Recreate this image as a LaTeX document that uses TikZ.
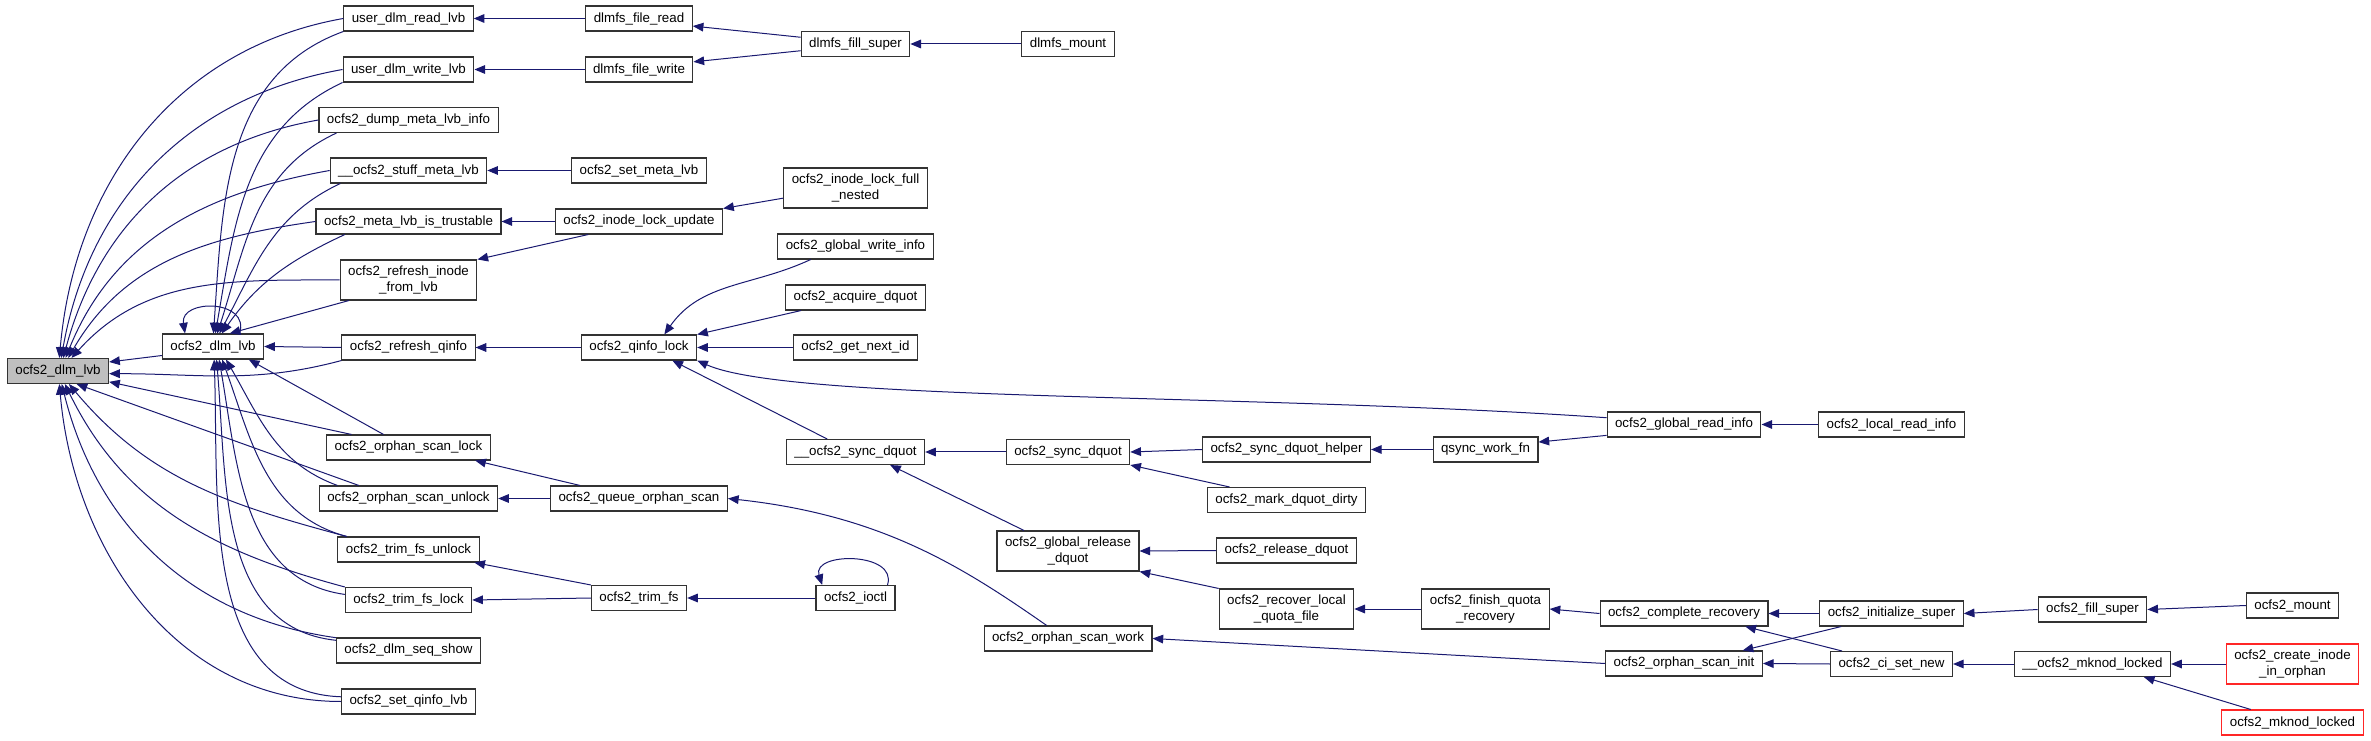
\documentclass[tikz,border=0pt]{standalone}
\usepackage{fontspec}
\setmainfont{Liberation Sans}
\usepackage{tikz}
\usetikzlibrary{arrows.meta}
\definecolor{edgeblue}{HTML}{191970}
\definecolor{curgray}{HTML}{BFBFBF}

\begin{document}
\begin{tikzpicture}[
  x=0.75pt, y=-0.75pt,
  fn/.style={draw=black!80,fill=white,line width=0.8pt,minimum height=18.75pt,
    inner xsep=6pt,inner ysep=1pt,align=center,font=\fontsize{10}{11.5}\selectfont},
  fn2/.style={fn,minimum height=30pt},
  cur/.style={fn,fill=curgray},
  trunc/.style={fn,draw=red!85},
  call/.style={draw=edgeblue,line width=0.75pt,{Triangle[length=8pt,width=6.5pt]}-}
]
  \useasboundingbox (0,0) rectangle (2371,741);

  % the function and its twin
  \node[cur] (lvb)    at (58,371)    {ocfs2\_dlm\_lvb};
  \node[fn]  (dlmlvb) at (213,346.5) {ocfs2\_dlm\_lvb};

  % direct callers
  \node[fn]  (readlvb)      at (408.5,18.5)  {user\_dlm\_read\_lvb};
  \node[fn]  (writelvb)     at (408.5,69.5)  {user\_dlm\_write\_lvb};
  \node[fn]  (dumpmeta)     at (408.5,120)   {ocfs2\_dump\_meta\_lvb\_info};
  \node[fn]  (stuffmeta)    at (408.5,170.5) {\_\_ocfs2\_stuff\_meta\_lvb};
  \node[fn]  (trustable)    at (408.5,221.5) {ocfs2\_meta\_lvb\_is\_trustable};
  \node[fn2] (refreshinode) at (408.5,280)   {ocfs2\_refresh\_inode\\\_from\_lvb};
  \node[fn]  (refreshqinfo) at (408.5,347.5) {ocfs2\_refresh\_qinfo};
  \node[fn]  (scanlock)     at (408.5,447.5) {ocfs2\_orphan\_scan\_lock};
  \node[fn]  (scanunlock)   at (408.5,498.5) {ocfs2\_orphan\_scan\_unlock};
  \node[fn]  (trimunlock)   at (408.5,549.5) {ocfs2\_trim\_fs\_unlock};
  \node[fn]  (trimlock)     at (408.5,600)   {ocfs2\_trim\_fs\_lock};
  \node[fn]  (seqshow)      at (408.5,650.5) {ocfs2\_dlm\_seq\_show};
  \node[fn]  (setqinfo)     at (408.5,701.5) {ocfs2\_set\_qinfo\_lvb};

  \node[fn]  (fileread)    at (639,18.5)  {dlmfs\_file\_read};
  \node[fn]  (filewrite)   at (639,69.5)  {dlmfs\_file\_write};
  \node[fn]  (setmeta)     at (639,170.5) {ocfs2\_set\_meta\_lvb};
  \node[fn]  (inodeupdate) at (639,221.5) {ocfs2\_inode\_lock\_update};
  \node[fn]  (qinfolock)   at (639,347.5) {ocfs2\_qinfo\_lock};
  \node[fn]  (queuescan)   at (639,498.5) {ocfs2\_queue\_orphan\_scan};
  \node[fn]  (trimfs)      at (639,598)   {ocfs2\_trim\_fs};

  \node[fn]  (dlmfsfill)   at (855.5,44)    {dlmfs\_fill\_super};
  \node[fn2] (fullnested)  at (855.5,188)   {ocfs2\_inode\_lock\_full\\\_nested};
  \node[fn]  (globalwrite) at (855.5,246.5) {ocfs2\_global\_write\_info};
  \node[fn]  (acquire)     at (855.5,297.5) {ocfs2\_acquire\_dquot};
  \node[fn]  (nextid)      at (855.5,347.5) {ocfs2\_get\_next\_id};
  \node[fn]  (syncdq)      at (855.5,452)   {\_\_ocfs2\_sync\_dquot};
  \node[fn]  (ioctl)       at (855.5,598)   {ocfs2\_ioctl};

  \node[fn]  (dlmfsmount)    at (1068,44)  {dlmfs\_mount};
  \node[fn]  (syncdquot)     at (1068,452) {ocfs2\_sync\_dquot};
  \node[fn2] (globalrelease) at (1068,551) {ocfs2\_global\_release\\\_dquot};
  \node[fn]  (scanwork)      at (1068,638.5) {ocfs2\_orphan\_scan\_work};

  \node[fn]  (synchelper) at (1286.5,449.5) {ocfs2\_sync\_dquot\_helper};
  \node[fn]  (markdirty)  at (1286.5,500)   {ocfs2\_mark\_dquot\_dirty};
  \node[fn]  (release)    at (1286.5,550.5) {ocfs2\_release\_dquot};
  \node[fn2] (recover)    at (1286.5,609)   {ocfs2\_recover\_local\\\_quota\_file};

  \node[fn]  (qsync)  at (1485.5,449.5) {qsync\_work\_fn};
  \node[fn2] (finish) at (1485.5,609)   {ocfs2\_finish\_quota\\\_recovery};

  \node[fn]  (globalread) at (1684,424.5) {ocfs2\_global\_read\_info};
  \node[fn]  (complete)   at (1684,613.5) {ocfs2\_complete\_recovery};
  \node[fn]  (scaninit)   at (1684,663.5) {ocfs2\_orphan\_scan\_init};

  \node[fn]  (localread) at (1891.5,424.5) {ocfs2\_local\_read\_info};
  \node[fn]  (initsuper) at (1891.5,613.5) {ocfs2\_initialize\_super};
  \node[fn]  (cisetnew)  at (1891.5,664)   {ocfs2\_ci\_set\_new};

  \node[fn]  (fillsuper)    at (2092.5,609.5) {ocfs2\_fill\_super};
  \node[fn]  (mknodlocked_) at (2092.5,664)   {\_\_ocfs2\_mknod\_locked};

  \node[fn]    (mount)       at (2292.5,605.5) {ocfs2\_mount};
  \node[trunc,minimum height=30pt] (createinode) at (2292.5,664) {ocfs2\_create\_inode\\\_in\_orphan};
  \node[trunc] (mknodlocked) at (2292.5,722.5) {ocfs2\_mknod\_locked};

  % callers of ocfs2_dlm_lvb
  \draw[call] (lvb.84) to[out=85,in=190] (readlvb.west);
  \draw[call] (lvb.76) to[out=80,in=190] (writelvb.west);
  \draw[call] (lvb.68) to[out=75,in=190] (dumpmeta.west);
  \draw[call] (lvb.60) to[out=68,in=190] (stuffmeta.west);
  \draw[call] (lvb.52) to[out=60,in=188] (trustable.west);
  \draw[call] (lvb.44) to[out=48,in=180] (refreshinode.west);
  \draw[call] (lvb.10) -- (dlmlvb.190);
  \draw[call] (lvb.-3) to[out=0,in=195] (refreshqinfo.south west);
  \draw[call] (lvb.-12) -- ([xshift=19pt]scanlock.north west);
  \draw[call] (lvb.-35) -- ([xshift=30pt]scanunlock.north west);
  \draw[call] (lvb.-50) to[out=-50,in=165] ([xshift=7pt]trimunlock.north west);
  \draw[call] (lvb.-62) to[out=-64,in=165] (trimlock.north west);
  \draw[call] (lvb.-74) to[out=-76,in=172] (seqshow.170);
  \draw[call] (lvb.-84) to[out=-85,in=180] (setqinfo.west);

  % callers of the twin
  \draw[call] (dlmlvb.88) to[out=86,in=200] (readlvb.south west);
  \draw[call] (dlmlvb.80) to[out=80,in=205] (writelvb.south west);
  \draw[call] (dlmlvb.72) to[out=72,in=205] ([xshift=13.5pt]dumpmeta.south west);
  \draw[call] (dlmlvb.64) to[out=62,in=205] ([xshift=8pt]stuffmeta.south west);
  \draw[call] (dlmlvb.56) to[out=55,in=205] ([xshift=22pt]trustable.south west);
  \draw[call] (dlmlvb.38) -- ([xshift=7pt]refreshinode.south west);
  \draw[call] ([xshift=-21pt]dlmlvb.north) .. controls +(-4pt,26pt) and +(8pt,26pt) .. ([xshift=20pt]dlmlvb.north);
  \draw[call] (dlmlvb.east) -- (refreshqinfo.west);
  \draw[call] (dlmlvb.-20) -- ([xshift=43pt]scanlock.north west);
  \draw[call] (dlmlvb.-45) to[out=-60,in=160] ([xshift=14pt]scanunlock.north west);
  \draw[call] (dlmlvb.-55) to[out=-70,in=165] ([xshift=7pt]trimunlock.north west);
  \draw[call] (dlmlvb.-65) to[out=-80,in=172] (trimlock.175);
  \draw[call] (dlmlvb.-75) to[out=-85,in=174] (seqshow.172);
  \draw[call] (dlmlvb.-85) to[out=-88,in=178] (setqinfo.176);

  % further up
  \draw[call] (readlvb.east) -- (fileread.west);
  \draw[call] (writelvb.east) -- (filewrite.west);
  \draw[call] (fileread.-8) -- (dlmfsfill.173);
  \draw[call] (filewrite.8) -- (dlmfsfill.187);
  \draw[call] (dlmfsfill.east) -- (dlmfsmount.west);
  \draw[call] (stuffmeta.east) -- (setmeta.west);
  \draw[call] (trustable.east) -- (inodeupdate.west);
  \draw[call] (refreshinode.north east) -- ([xshift=25pt]inodeupdate.south west);
  \draw[call] (inodeupdate.north east) -- (fullnested.188);
  \draw[call] (refreshqinfo.east) -- (qinfolock.west);
  \draw[call] ([xshift=19pt]qinfolock.north) to[out=55,in=205] ([xshift=25pt]globalwrite.south west);
  \draw[call] (qinfolock.north east) -- ([xshift=12pt]acquire.south west);
  \draw[call] (qinfolock.east) -- (nextid.west);
  \draw[call] ([xshift=25pt]qinfolock.south) -- ([xshift=31pt]syncdq.north west);
  \draw[call] (qinfolock.south east) .. controls (790,402) and (1250,393) .. (globalread.175);
  \draw[call] (syncdq.east) -- (syncdquot.west);
  \draw[call] ([xshift=26pt]syncdq.south) -- ([xshift=-33pt]globalrelease.north);
  \draw[call] (syncdquot.east) -- (synchelper.west);
  \draw[call] (syncdquot.south east) -- ([xshift=17pt]markdirty.north west);
  \draw[call] (synchelper.east) -- (qsync.west);
  \draw[call] (qsync.8) -- (globalread.-172);
  \draw[call] (globalread.east) -- (localread.west);
  \draw[call] (globalrelease.east) -- (release.west);
  \draw[call] (globalrelease.south east) -- (recover.north west);
  \draw[call] (recover.east) -- (finish.west);
  \draw[call] (finish.east) -- (complete.west);
  \draw[call] (complete.east) -- (initsuper.west);
  \draw[call] ([xshift=46pt]complete.south) -- ([xshift=9pt]cisetnew.north west);
  \draw[call] ([xshift=44pt]scaninit.north) -- ([xshift=16.5pt]initsuper.south west);
  \draw[call] (scaninit.east) -- (cisetnew.west);
  \draw[call] (scanwork.east) -- (scaninit.west);
  \draw[call] (queuescan.east) .. controls (880,515) and (960,565) .. ([xshift=-16pt]scanwork.north);
  \draw[call] (scanunlock.east) -- (queuescan.west);
  \draw[call] ([xshift=50pt]scanlock.south) -- ([xshift=22.5pt]queuescan.north west);
  \draw[call] ([xshift=-4pt]trimunlock.south east) -- (trimfs.north west);
  \draw[call] (trimlock.east) -- (trimfs.west);
  \draw[call] (trimfs.east) -- (ioctl.west);
  \draw[call] ([xshift=-25pt]ioctl.north) .. controls +(-8pt,25pt) and +(8pt,25pt) .. ([xshift=24pt]ioctl.north);
  \draw[call] (initsuper.east) -- (fillsuper.west);
  \draw[call] (fillsuper.east) -- (mount.west);
  \draw[call] (cisetnew.east) -- (mknodlocked_.west);
  \draw[call] (mknodlocked_.east) -- (createinode.west);
  \draw[call] ([xshift=38.5pt]mknodlocked_.south) -- ([xshift=22pt]mknodlocked.north west);
\end{tikzpicture}
\end{document}
